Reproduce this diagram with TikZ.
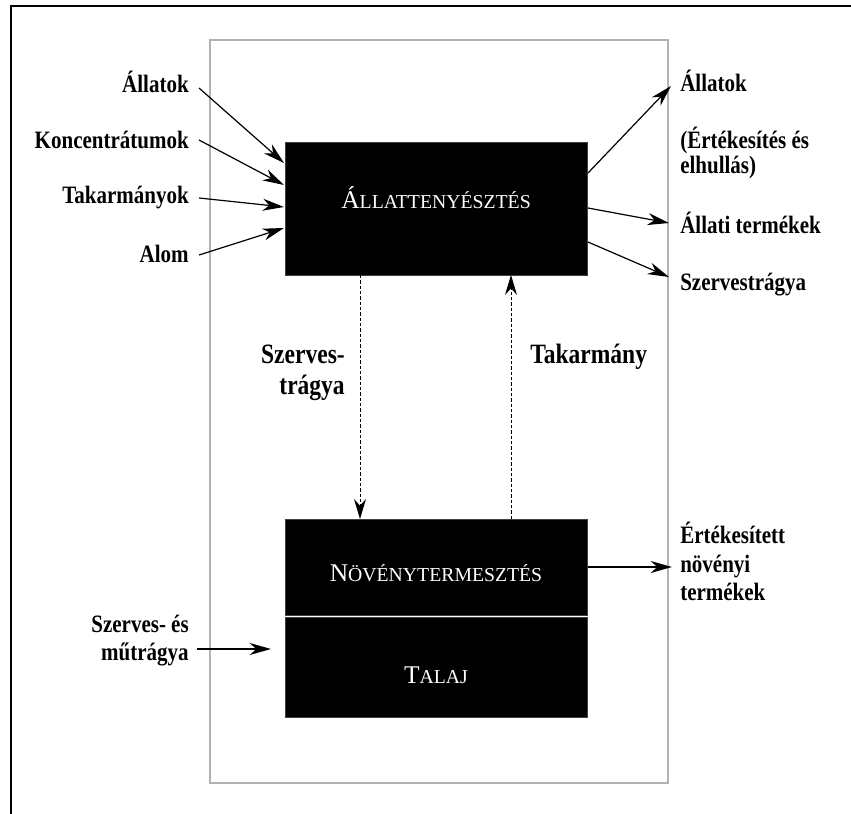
\documentclass[tikz,border=0pt]{standalone}
\usepackage{fontspec}
\setmainfont{Liberation Serif}
\newfontfamily\lblfont[FakeStretch=0.84]{Liberation Serif}
\usetikzlibrary{arrows.meta}
\newcommand\ttlbig[1]{{\fontsize{19.1}{20}\selectfont #1}}
\newcommand\ttlsmall[1]{{\fontsize{14.8}{16}\selectfont #1}}
\begin{document}
\begin{tikzpicture}[x=0.75pt,y=-0.75pt,
  lbl/.style={font=\lblfont\bfseries\fontsize{18.75}{20}\selectfont, inner sep=0pt},
  mlbl/.style={font=\lblfont\bfseries\fontsize{21}{22}\selectfont, inner sep=0pt},
  blk/.style={fill=black, draw=black!75, line width=0.75pt, inner sep=0pt, minimum width=226.5pt},
  ttl/.style={text=white, inner sep=0pt},
  arr/.style={line width=0.9pt, -{Stealth[length=16pt,width=9pt,inset=5pt]}},
  darr/.style={line width=0.7pt, dash pattern=on 2.5pt off 1.5pt, -{Stealth[length=15pt,width=9pt,inset=5pt]}},
  frame/.style={line width=2.2pt, black},
  zone/.style={line width=1.1pt, black!30}]
\useasboundingbox (0,0) rectangle (851,814);
% outer frame (top and left only)
\draw[frame] (10.5,6) -- (851,6);
\draw[frame] (11,5) -- (11,814);
% grey zone
\draw[zone] (210,40) rectangle (668,783);
% boxes
\node[blk, minimum height=99.75pt] (allat) at (436,208.5) {};
\node[blk, minimum height=72.375pt] (noveny) at (436,567.25) {};
\node[blk, minimum height=74.625pt] (talaj) at (436,667.25) {};
\node[ttl, anchor=base] (t1) at (436,208) {\ttlbig{Á}\ttlsmall{LLATTENYÉSZTÉS}};
\node[ttl, anchor=base] (t2) at (436,581) {\ttlbig{N}\ttlsmall{ÖVÉNYTERMESZTÉS}};
\node[ttl, anchor=base] (t3) at (436,683) {\ttlbig{T}\ttlsmall{ALAJ}};
% left labels
\node[lbl, anchor=base east] (l1) at (189,92) {Állatok};
\node[lbl, anchor=base east] (l2) at (189,148) {Koncentrátumok};
\node[lbl, anchor=base east] (l3) at (189,203) {Takarmányok};
\node[lbl, anchor=base east] (l4) at (189,262) {Alom};
\node[lbl, anchor=base east] (l5) at (189,632) {Szerves- és};
\node[lbl, anchor=base east] (l6) at (189,660) {műtrágya};
% right labels
\node[lbl, anchor=base west] (r1) at (680,91) {Állatok};
\node[lbl, anchor=base west] (r2) at (680,148) {(Értékesítés és};
\node[lbl, anchor=base west] (r3) at (680,173) {elhullás)};
\node[lbl, anchor=base west] (r4) at (680,233) {Állati termékek};
\node[lbl, anchor=base west] (r5) at (680,290) {Szervestrágya};
\node[lbl, anchor=base west] (r6) at (680,543) {Értékesített};
\node[lbl, anchor=base west] (r7) at (680,572) {növényi};
\node[lbl, anchor=base west] (r8) at (680,600) {termékek};
% middle labels
\node[mlbl, anchor=base east] (m1) at (345,363) {Szerves-};
\node[mlbl, anchor=base east] (m2) at (345,394) {trágya};
\node[mlbl, anchor=base west] (m3) at (530,363) {Takarmány};
% connector end points
\coordinate (a1) at (199,88);  \coordinate (b1) at (284,163);
\coordinate (a2) at (199,140); \coordinate (b2) at (284,185);
\coordinate (a3) at (199,198); \coordinate (b3) at (284,207);
\coordinate (a4) at (199,255); \coordinate (b4) at (284,228);
\coordinate (c1) at (588,173); \coordinate (d1) at (671,86);
\coordinate (c2) at (588,208); \coordinate (d2) at (669,223);
\coordinate (c3) at (588,242); \coordinate (d3) at (669,277);
\coordinate (c4) at (588,567); \coordinate (d4) at (672,567);
\coordinate (a5) at (197,649); \coordinate (b5) at (271,649);
\coordinate (e1) at (360,275); \coordinate (f1) at (360,519);
\coordinate (e2) at (511,519); \coordinate (f2) at (511,275);
% connectors
\draw[arr] (a1) -- (b1);
\draw[arr] (a2) -- (b2);
\draw[arr] (a3) -- (b3);
\draw[arr] (a4) -- (b4);
\draw[arr] (c1) -- (d1);
\draw[arr] (c2) -- (d2);
\draw[arr] (c3) -- (d3);
\draw[arr] (c4) -- (d4);
\draw[arr] (a5) -- (b5);
\draw[darr] (e1) -- (f1);
\draw[darr] (e2) -- (f2);
\end{tikzpicture}
\end{document}
